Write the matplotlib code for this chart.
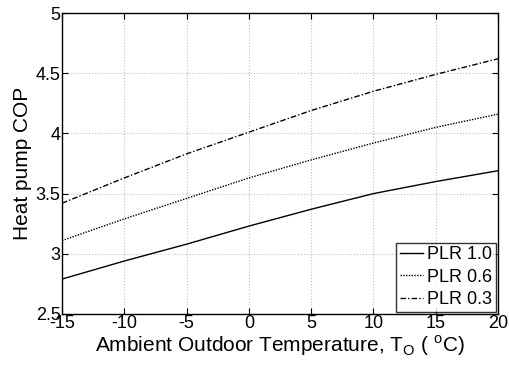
import matplotlib
matplotlib.use("Agg")
import matplotlib.pyplot as plt

plt.rcParams['font.family'] = ['Liberation Sans', 'DejaVu Sans']
plt.rcParams['axes.unicode_minus'] = False

# Data
temps = [-15, -10, -5, 0, 5, 10, 15, 20]
cop_plr10 = [2.79, 2.94, 3.08, 3.23, 3.37, 3.50, 3.60, 3.69]
cop_plr06 = [3.11, 3.29, 3.46, 3.63, 3.78, 3.92, 4.05, 4.16]
cop_plr03 = [3.42, 3.63, 3.83, 4.01, 4.19, 4.35, 4.49, 4.62]
labels = ['PLR 1.0', 'PLR 0.6', 'PLR 0.3']

fig = plt.figure(figsize=(5.1, 3.74), dpi=100)
ax = fig.add_axes([62/510, 60/374, 436/510, 301/374])

ax.plot(temps, cop_plr10, color='black', lw=1.0, ls='-', label=labels[0])
ax.plot(temps, cop_plr06, color='black', lw=1.0, ls=(0, (1, 1)), label=labels[1])
ax.plot(temps, cop_plr03, color='black', lw=1.0, ls=(0, (4, 1.5, 1, 1.5)), label=labels[2])

ax.set_xlim(-15, 20)
ax.set_ylim(2.5, 5)
ax.set_xticks([-15, -10, -5, 0, 5, 10, 15, 20])
ax.set_yticks([2.5, 3, 3.5, 4, 4.5, 5])
ax.set_yticklabels(['2.5', '3', '3.5', '4', '4.5', '5'])
ax.grid(True, color='#c0c0c0', ls=':', lw=0.8)
ax.tick_params(direction='in', labelsize=13, length=4, pad=1,
               top=True, right=True)
for s in ax.spines.values():
    s.set_linewidth(1.0)

ax.set_xlabel(r'Ambient Outdoor Temperature, T$_\mathregular{O}$ ( $^\mathregular{o}$C)',
              fontsize=15, labelpad=1)
ax.set_ylabel('Heat pump COP', fontsize=15, labelpad=3)

leg = ax.legend(loc='lower right', fontsize=13, frameon=True, fancybox=False,
                edgecolor='black', borderpad=0.2, labelspacing=0.3,
                handlelength=1.3, handletextpad=0.2, borderaxespad=0.12)
leg.get_frame().set_linewidth(1.0)

fig.savefig('out.png', dpi=100)
